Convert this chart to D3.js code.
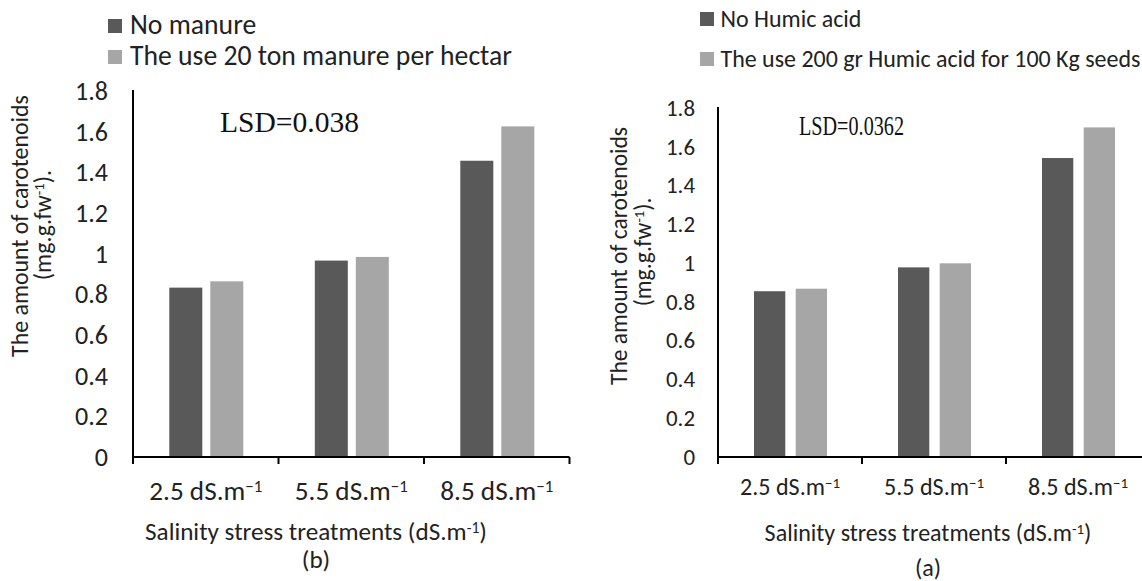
<!DOCTYPE html>
<html>
<head>
<meta charset="utf-8">
<script src="https://cdn.jsdelivr.net/npm/d3@7"></script>
<style>
  html, body { margin: 0; padding: 0; background: #fff; }
  svg { display: block; }
</style>
</head>
<body>
<svg id="chart" width="1142" height="581"></svg>
<script>
// ---------- data ----------
const categories = ["2.5 dS.m⁻¹", "5.5 dS.m⁻¹", "8.5 dS.m⁻¹"];
const yTicks = [0, 0.2, 0.4, 0.6, 0.8, 1, 1.2, 1.4, 1.6, 1.8];

// panel (b) – manure
const manureSeries = ["No manure", "The use 20 ton manure per hectar"];
const noManure = [0.833, 0.966, 1.457];
const manure20 = [0.864, 0.984, 1.626];
const lsdManure = "LSD=0.038";
const panelLabelB = "(b)";

// panel (a) – humic acid
const humicSeries = ["No Humic acid", "The use 200 gr Humic acid for 100 Kg seeds"];
const noHumic = [0.855, 0.978, 1.542];
const humic200 = [0.868, 0.999, 1.700];
const lsdHumic = "LSD=0.0362";
const panelLabelA = "(a)";

const yTitle1 = "The amount of carotenoids";
const yTitle2 = ["(mg.g.fw", "-1", ")."];
const xTitle = ["Salinity stress treatments (dS.m", "-1", ")"];

const seriesColors = ["#595959", "#a6a6a6"];
const sansFont = "Calibri, Carlito, Lato, 'Open Sans', sans-serif";
const serifFont = "'Times New Roman', 'Liberation Serif', serif";

const svg = d3.select("#chart");
svg.append("rect").attr("width", 1142).attr("height", 581).attr("fill", "#fff");

function fitWidth(sel, w) {
  const cur = sel.node().getComputedTextLength();
  const fs = parseFloat(sel.attr("font-size"));
  sel.attr("font-size", (fs * w / cur).toFixed(2));
  sel.selectAll("tspan.sup").attr("font-size", (fs * w / cur * 0.62).toFixed(2));
}

function supText(sel, parts, fs) {
  sel.append("tspan").text(parts[0]);
  sel.append("tspan").attr("class", "sup").attr("font-size", fs * 0.62).attr("dy", "-0.45em").text(parts[1]);
  if (parts[2] !== undefined) sel.append("tspan").attr("dy", "0.28em").text(parts[2]);
}

function catLabel(sel, label, fs) {
  const idx = label.indexOf("⁻¹");
  sel.text(null);
  sel.append("tspan").text(label.slice(0, idx));
  sel.append("tspan").attr("class", "sup").attr("font-size", fs * 0.62).attr("dy", "-0.5em").text("−1");
}

function drawPanel(cfg) {
  const g = svg.append("g");
  const x = d3.scaleBand().domain(categories).range([cfg.x0, cfg.x0 + cfg.band * 3]);
  const x1 = d3.scaleBand().domain(cfg.series)
    .range([cfg.barOff, cfg.barOff + cfg.groupW]).paddingInner(cfg.innerPad);
  const y = d3.scaleLinear().domain([0, 1.8]).range([cfg.base, cfg.top]);

  const rows = categories.map((c, i) => ({ cat: c, vals: [cfg.values[0][i], cfg.values[1][i]] }));

  // bars
  g.selectAll("g.grp").data(rows).join("g")
    .attr("transform", d => `translate(${x(d.cat)},0)`)
    .selectAll("rect").data(d => d.vals.map((v, k) => ({ v, s: cfg.series[k], k })))
    .join("rect")
    .attr("x", d => x1(d.s))
    .attr("width", x1.bandwidth())
    .attr("y", d => y(d.v))
    .attr("height", d => y(0) - y(d.v))
    .attr("fill", d => seriesColors[d.k]);

  // y axis labels
  const ya = g.append("g").attr("transform", `translate(${cfg.x0},0)`)
    .call(d3.axisLeft(y).tickValues(yTicks).tickSize(0).tickPadding(cfg.yPad)
      .tickFormat(d => String(+d.toFixed(1))));
  ya.select(".domain").remove();
  const yl = ya.selectAll("text").attr("font-family", sansFont).attr("font-size", 20).attr("fill", "#222");
  const topLab = ya.selectAll("text").filter(d => d === 1.8);
  fitWidth(topLab, cfg.yLabW);
  yl.attr("font-size", topLab.attr("font-size"));

  // axis lines
  g.append("line").attr("x1", cfg.x0).attr("x2", cfg.x0)
    .attr("y1", y(1.8) - 1).attr("y2", y(0) + 7).attr("stroke", "#000").attr("stroke-width", 2);
  const xEnd = Math.min(cfg.x0 + cfg.band * 3, 1142);
  g.append("line").attr("x1", cfg.x0).attr("x2", xEnd)
    .attr("y1", y(0)).attr("y2", y(0)).attr("stroke", "#000").attr("stroke-width", 2);
  const bounds = categories.slice(1).map(c => x(c)).concat([cfg.x0 + cfg.band * 3]);
  g.selectAll("line.tk").data(bounds).join("line").attr("class", "tk")
    .attr("x1", d => d).attr("x2", d => d).attr("y1", y(0)).attr("y2", y(0) + 7)
    .attr("stroke", "#000").attr("stroke-width", 2);

  // x tick labels
  const xa = g.append("g").attr("transform", `translate(0,${y(0)})`)
    .call(d3.axisBottom(x).tickSize(0).tickPadding(0));
  xa.select(".domain").remove();
  xa.selectAll("text").attr("dy", null).attr("y", cfg.xLabBase - y(0))
    .attr("font-family", sansFont).attr("font-size", cfg.xFs).attr("fill", "#222")
    .each(function (d) { catLabel(d3.select(this), d, cfg.xFs); });
  xa.selectAll("text").each(function () { fitWidth(d3.select(this), cfg.xLabW); });

  // x title
  const xt = g.append("text").attr("x", cfg.xTitleCx).attr("y", cfg.xTitleBase)
    .attr("text-anchor", "middle").attr("font-family", sansFont).attr("font-size", 20).attr("fill", "#222");
  supText(xt, xTitle, 20);
  fitWidth(xt, cfg.xTitleW);
  g.append("text").attr("x", cfg.xTitleCx).attr("y", cfg.panelBase)
    .attr("text-anchor", "middle").attr("font-family", sansFont)
    .attr("font-size", xt.attr("font-size")).attr("fill", "#222").text(cfg.panelLabel);

  // y title
  const t1 = g.append("text").attr("transform", `translate(${cfg.yt1x},${cfg.ytCy}) rotate(-90)`)
    .attr("text-anchor", "middle").attr("font-family", sansFont).attr("font-size", 20).attr("fill", "#222")
    .text(yTitle1);
  fitWidth(t1, cfg.yt1W);
  const fs2 = parseFloat(t1.attr("font-size"));
  const t2 = g.append("text").attr("transform", `translate(${cfg.yt2x},${cfg.ytCy2}) rotate(-90)`)
    .attr("text-anchor", "middle").attr("font-family", sansFont).attr("font-size", fs2).attr("fill", "#222");
  supText(t2, yTitle2, fs2);

  // LSD
  g.append("text").attr("x", cfg.lsdX).attr("y", cfg.lsdBase)
    .attr("font-family", serifFont).attr("font-size", cfg.lsdFs).attr("fill", "#111")
    .attr("textLength", cfg.lsdW).attr("lengthAdjust", "spacingAndGlyphs").text(cfg.lsd);

  // legend
  const lg = g.append("g");
  cfg.series.forEach((s, k) => {
    lg.append("rect").attr("x", cfg.legX).attr("y", cfg.legBase[k] - 15)
      .attr("width", 14).attr("height", 14).attr("fill", seriesColors[k]);
  });
  const lt = cfg.series.map((s, k) => lg.append("text").attr("x", cfg.legTx).attr("y", cfg.legBase[k])
    .attr("font-family", sansFont).attr("font-size", 20).attr("fill", "#222").text(s));
  fitWidth(lt[1], cfg.legW);
  lt[0].attr("font-size", lt[1].attr("font-size"));
}

drawPanel({
  series: manureSeries, values: [noManure, manure20], lsd: lsdManure, panelLabel: panelLabelB,
  x0: 133, band: 145.5, barOff: 36.3, groupW: 74, innerPad: 0.195,
  base: 457, top: 91, yPad: 25, yLabW: 33,
  xLabBase: 500, xFs: 21, xLabW: 113,
  xTitleCx: 316, xTitleBase: 540, xTitleW: 342, panelBase: 568,
  yt1x: 28, ytCy: 226, yt1W: 262, yt2x: 51, ytCy2: 225,
  lsdX: 220, lsdBase: 131.5, lsdFs: 29, lsdW: 139,
  legX: 108, legTx: 130, legBase: [34, 65], legW: 382
});

drawPanel({
  series: humicSeries, values: [noHumic, humic200], lsd: lsdHumic, panelLabel: panelLabelA,
  x0: 718, band: 144, barOff: 36, groupW: 73, innerPad: 0.25,
  base: 457, top: 108, yPad: 23, yLabW: 29,
  xLabBase: 495, xFs: 19, xLabW: 100,
  xTitleCx: 928, xTitleBase: 541, xTitleW: 327, panelBase: 576,
  yt1x: 627, ytCy: 256, yt1W: 258, yt2x: 651, ytCy2: 252,
  lsdX: 799, lsdBase: 135, lsdFs: 27, lsdW: 105,
  legX: 700, legTx: 720.5, legBase: [27, 67], legW: 420
});
</script>
</body>
</html>
